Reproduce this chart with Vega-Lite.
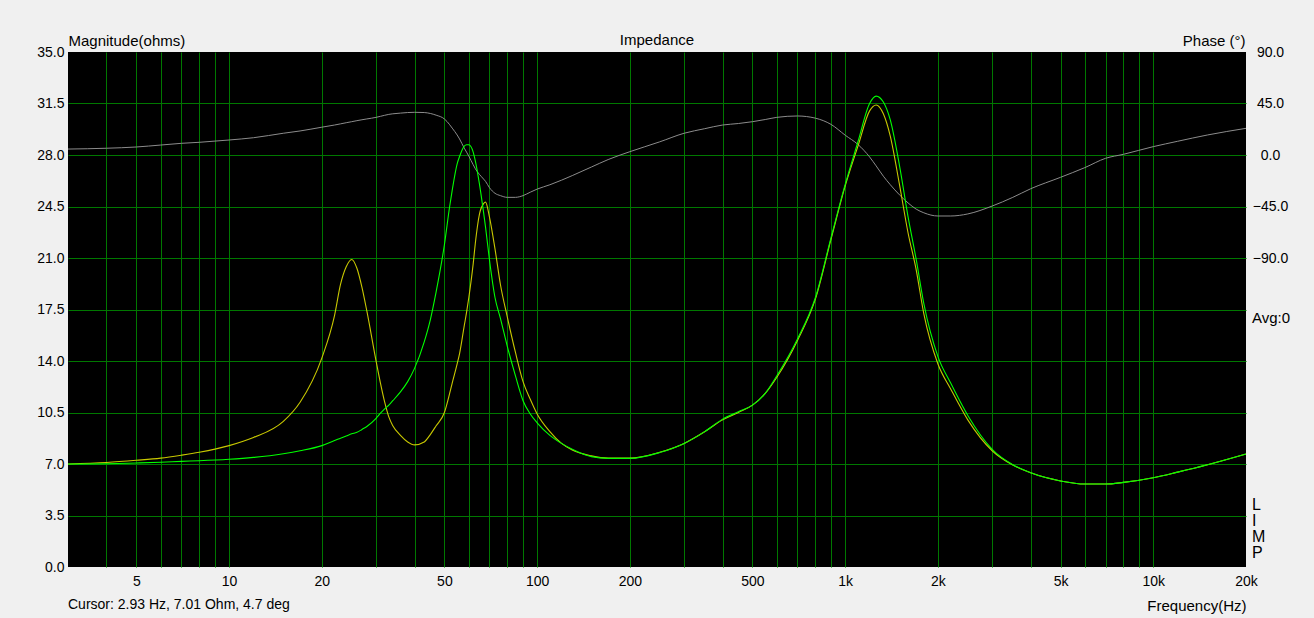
{
  "$schema": "https://vega.github.io/schema/vega-lite/v6.json",
  "width": 1178,
  "height": 515,
  "autosize": {"type": "none"},
  "padding": {"left": 68, "top": 52, "right": 68, "bottom": 51},
  "background": "#f0f0f0",
  "config": {
    "font": "Liberation Sans",
    "view": {"fill": "#000000", "stroke": null},
    "axis": {
      "labelFont": "Liberation Sans",
      "titleFont": "Liberation Sans",
      "labelColor": "#000000",
      "titleColor": "#000000",
      "labelFontSize": 14,
      "titleFontSize": 15,
      "titleFontWeight": "normal",
      "domain": false,
      "ticks": false,
      "tickSize": 0,
      "gridWidth": 1,
      "gridOpacity": 1,
      "gridColor": "#007800"
    }
  },
  "datasets": {
    "imp": [
      {"f": 3, "m1": 7.0, "m2": 7.0, "ph": 5.2},
      {"f": 4, "m1": 7.1, "m2": 7.02, "ph": 5.9},
      {"f": 5, "m1": 7.25, "m2": 7.07, "ph": 7.0},
      {"f": 6, "m1": 7.4, "m2": 7.12, "ph": 8.7},
      {"f": 7, "m1": 7.6, "m2": 7.18, "ph": 10.2},
      {"f": 8, "m1": 7.8, "m2": 7.22, "ph": 11.1},
      {"f": 10, "m1": 8.25, "m2": 7.32, "ph": 13.1},
      {"f": 12, "m1": 8.8, "m2": 7.45, "ph": 15.1},
      {"f": 15, "m1": 9.9, "m2": 7.7, "ph": 19.0},
      {"f": 17, "m1": 11.2, "m2": 7.9, "ph": 21.0},
      {"f": 20, "m1": 14.2, "m2": 8.25, "ph": 24.3},
      {"f": 22, "m1": 17.1, "m2": 8.6, "ph": 26.2},
      {"f": 23, "m1": 19.2, "m2": 8.75, "ph": 27.2},
      {"f": 24, "m1": 20.4, "m2": 8.9, "ph": 28.2},
      {"f": 25, "m1": 20.9, "m2": 9.05, "ph": 29.1},
      {"f": 26, "m1": 20.3, "m2": 9.15, "ph": 30.0},
      {"f": 27, "m1": 19.0, "m2": 9.35, "ph": 30.8},
      {"f": 28, "m1": 17.4, "m2": 9.55, "ph": 31.5},
      {"f": 30, "m1": 14.0, "m2": 10.1, "ph": 32.9},
      {"f": 31, "m1": 12.5, "m2": 10.45, "ph": 33.8},
      {"f": 32, "m1": 11.2, "m2": 10.75, "ph": 34.7},
      {"f": 33, "m1": 10.2, "m2": 11.0, "ph": 35.5},
      {"f": 34, "m1": 9.6, "m2": 11.3, "ph": 36.0},
      {"f": 36, "m1": 8.95, "m2": 11.9, "ph": 36.6},
      {"f": 38, "m1": 8.5, "m2": 12.6, "ph": 37.1},
      {"f": 40, "m1": 8.3, "m2": 13.5, "ph": 37.3},
      {"f": 43, "m1": 8.5, "m2": 15.3, "ph": 37.1},
      {"f": 45, "m1": 9.0, "m2": 16.8, "ph": 36.3},
      {"f": 47, "m1": 9.6, "m2": 18.7, "ph": 34.8},
      {"f": 50, "m1": 10.5, "m2": 21.9, "ph": 31.5},
      {"f": 52, "m1": 11.8, "m2": 24.5, "ph": 26.5},
      {"f": 53, "m1": 12.5, "m2": 25.6, "ph": 23.5},
      {"f": 55, "m1": 13.8, "m2": 27.4, "ph": 17.5},
      {"f": 56, "m1": 14.5, "m2": 27.9, "ph": 14},
      {"f": 58, "m1": 16.4, "m2": 28.6, "ph": 6},
      {"f": 59, "m1": 17.3, "m2": 28.7, "ph": 2.5},
      {"f": 60, "m1": 18.3, "m2": 28.7, "ph": -1},
      {"f": 62, "m1": 20.6, "m2": 28.2, "ph": -8.5},
      {"f": 63, "m1": 22.0, "m2": 27.6, "ph": -12},
      {"f": 65, "m1": 24.0, "m2": 26.0, "ph": -17},
      {"f": 67, "m1": 24.7, "m2": 24.1, "ph": -21},
      {"f": 68, "m1": 24.8, "m2": 23.1, "ph": -23},
      {"f": 70, "m1": 23.8, "m2": 20.9, "ph": -28.5},
      {"f": 73, "m1": 21.6, "m2": 18.3, "ph": -33.5},
      {"f": 76, "m1": 19.2, "m2": 16.9, "ph": -35.5},
      {"f": 80, "m1": 17.0, "m2": 15.0, "ph": -37},
      {"f": 85, "m1": 14.6, "m2": 13.0, "ph": -37},
      {"f": 90, "m1": 12.6, "m2": 11.3, "ph": -35.5},
      {"f": 95, "m1": 11.4, "m2": 10.4, "ph": -32.5},
      {"f": 100, "m1": 10.4, "m2": 9.8, "ph": -29.8},
      {"f": 110, "m1": 9.2, "m2": 8.95, "ph": -26},
      {"f": 120, "m1": 8.4, "m2": 8.4, "ph": -22},
      {"f": 130, "m1": 7.95, "m2": 8.0, "ph": -18},
      {"f": 150, "m1": 7.55, "m2": 7.5, "ph": -10.5},
      {"f": 170, "m1": 7.4, "m2": 7.38, "ph": -4},
      {"f": 200, "m1": 7.4, "m2": 7.38, "ph": 2.9},
      {"f": 250, "m1": 7.8, "m2": 7.78, "ph": 11.5},
      {"f": 300, "m1": 8.4, "m2": 8.4, "ph": 19.0},
      {"f": 350, "m1": 9.2, "m2": 9.2, "ph": 23},
      {"f": 400, "m1": 10.0, "m2": 10.05, "ph": 26.2},
      {"f": 450, "m1": 10.5, "m2": 10.55, "ph": 27.5},
      {"f": 500, "m1": 11.0, "m2": 11.0, "ph": 29.1},
      {"f": 550, "m1": 11.8, "m2": 11.8, "ph": 31},
      {"f": 600, "m1": 12.9, "m2": 13.0, "ph": 32.9},
      {"f": 700, "m1": 15.4, "m2": 15.5, "ph": 34.1},
      {"f": 800, "m1": 18.2, "m2": 18.3, "ph": 32.2},
      {"f": 900, "m1": 22.3, "m2": 22.4, "ph": 26.7},
      {"f": 1000, "m1": 25.9, "m2": 26.0, "ph": 17.3},
      {"f": 1100, "m1": 28.6, "m2": 28.9, "ph": 9.2},
      {"f": 1200, "m1": 31.0, "m2": 31.5, "ph": -1.7},
      {"f": 1260, "m1": 31.4, "m2": 32.0, "ph": -9.5},
      {"f": 1330, "m1": 30.8, "m2": 31.6, "ph": -18.5},
      {"f": 1400, "m1": 29.3, "m2": 30.4, "ph": -25.9},
      {"f": 1500, "m1": 26.0, "m2": 27.3, "ph": -34.8},
      {"f": 1600, "m1": 22.7, "m2": 23.8, "ph": -41.9},
      {"f": 1700, "m1": 20.2, "m2": 20.9, "ph": -47.3},
      {"f": 1800, "m1": 17.2, "m2": 17.9, "ph": -50.5},
      {"f": 2000, "m1": 13.8, "m2": 14.3, "ph": -53.3},
      {"f": 2200, "m1": 12.1, "m2": 12.5, "ph": -53.3},
      {"f": 2500, "m1": 10.0, "m2": 10.3, "ph": -51.5},
      {"f": 3000, "m1": 7.9, "m2": 8.0, "ph": -44.6},
      {"f": 3500, "m1": 6.93, "m2": 6.95, "ph": -37},
      {"f": 4000, "m1": 6.4, "m2": 6.4, "ph": -29.5},
      {"f": 5000, "m1": 5.85, "m2": 5.85, "ph": -19.5},
      {"f": 6000, "m1": 5.64, "m2": 5.64, "ph": -11},
      {"f": 7000, "m1": 5.64, "m2": 5.64, "ph": -2.9},
      {"f": 8000, "m1": 5.75, "m2": 5.75, "ph": 0.6},
      {"f": 10000, "m1": 6.07, "m2": 6.07, "ph": 7.3},
      {"f": 12000, "m1": 6.45, "m2": 6.45, "ph": 12},
      {"f": 15000, "m1": 6.95, "m2": 6.95, "ph": 17.5},
      {"f": 20000, "m1": 7.68, "m2": 7.68, "ph": 23.3}
    ],
    "one": [{}]
  },
  "data": {"name": "imp"},
  "layer": [
    {
      "mark": {"type": "line", "color": "#8c8c8c", "strokeWidth": 1, "interpolate": "monotone"},
      "encoding": {
        "x": {
          "field": "f",
          "type": "quantitative",
          "scale": {"type": "log", "domain": [3, 20000], "nice": false},
          "axis": {
            "orient": "bottom",
            "values": [5, 10, 20, 50, 100, 200, 500, 1000, 2000, 5000, 10000, 20000],
            "labelExpr": "datum.value >= 1000 ? (datum.value / 1000) + 'k' : datum.value + ''",
            "labelPadding": 7,
            "labelFlush": false,
            "labelOverlap": false,
            "grid": false,
            "title": "Frequency(Hz)",
            "titleAlign": "right",
            "titleAnchor": "end",
            "titleBaseline": "middle",
            "titleX": 1178,
            "titleY": 38,
            "titleFontSize": 15
          }
        },
        "y": {
          "field": "ph",
          "type": "quantitative",
          "scale": {"domain": [-360, 90], "nice": false, "zero": false},
          "axis": {
            "orient": "right",
            "values": [-90, -45, 0, 45, 90],
            "format": ".1f",
            "grid": false,
            "labelAlign": "center",
            "labelPadding": 24,
            "title": "Phase (°)",
            "titleAngle": 0,
            "titleAlign": "right",
            "titleBaseline": "middle",
            "titleX": -1,
            "titleY": -12
          }
        }
      }
    },
    {
      "layer": [
        {
          "mark": {"type": "line", "color": "#c8c800", "strokeWidth": 1.1, "interpolate": "monotone"},
          "encoding": {
            "x": {
              "field": "f",
              "type": "quantitative",
              "scale": {"type": "log", "domain": [3, 20000], "nice": false},
              "axis": {
                "orient": "bottom",
                "values": [4, 5, 6, 7, 8, 9, 10, 20, 30, 40, 50, 60, 70, 80, 90, 100, 200, 300, 400, 500, 600, 700, 800, 900, 1000, 2000, 3000, 4000, 5000, 6000, 7000, 8000, 9000, 10000],
                "labels": false,
                "grid": true,
                "title": null
              }
            },
            "y": {
              "field": "m1",
              "type": "quantitative",
              "scale": {"domain": [0, 35], "nice": false},
              "axis": {
                "orient": "left",
                "values": [0, 3.5, 7, 10.5, 14, 17.5, 21, 24.5, 28, 31.5, 35],
                "format": ".1f",
                "grid": false,
                "labelPadding": 4,
                "title": "Magnitude(ohms)",
                "titleAngle": 0,
                "titleAlign": "left",
                "titleBaseline": "middle",
                "titleX": 0,
                "titleY": -12
              }
            }
          }
        },
        {
          "mark": {"type": "line", "color": "#00ff00", "strokeWidth": 1.1, "interpolate": "monotone"},
          "encoding": {
            "x": {"field": "f", "type": "quantitative", "axis": null},
            "y": {
              "field": "m2",
              "type": "quantitative",
              "axis": {
                "orient": "left",
                "values": [3.5, 7, 10.5, 14, 17.5, 21, 24.5, 28, 31.5],
                "labels": false,
                "grid": true,
                "title": null
              }
            }
          }
        },
        {
          "data": {"name": "one"},
          "mark": {"type": "text", "align": "left", "baseline": "middle", "fontSize": 15, "color": "#000000", "dx": 6, "font": "Liberation Sans"},
          "encoding": {
            "x": {"datum": 20000, "axis": null},
            "y": {"datum": 16.93, "axis": null},
            "text": {"value": "Avg:0"}
          }
        },
        {
          "data": {"name": "one"},
          "mark": {"type": "text", "align": "left", "baseline": "top", "fontSize": 16, "lineHeight": 16, "color": "#000000", "dx": 6, "font": "Liberation Sans"},
          "encoding": {
            "x": {"datum": 20000, "axis": null},
            "y": {"datum": 4.76, "axis": null},
            "text": {"value": ["L", "I", "M", "P"]}
          }
        },
        {
          "data": {"name": "one"},
          "mark": {"type": "text", "align": "left", "baseline": "middle", "fontSize": 14, "color": "#000000", "dy": 38, "font": "Liberation Sans"},
          "encoding": {
            "x": {"datum": 3, "axis": null},
            "y": {"datum": 0, "axis": null},
            "text": {"value": "Cursor: 2.93 Hz, 7.01 Ohm, 4.7 deg"}
          }
        },
        {
          "data": {"name": "one"},
          "mark": {"type": "text", "align": "center", "baseline": "middle", "fontSize": 15, "color": "#000000", "dy": -12, "font": "Liberation Sans"},
          "encoding": {
            "x": {"datum": 244.9, "axis": null},
            "y": {"datum": 35, "axis": null},
            "text": {"value": "Impedance"}
          }
        }
      ],
      "resolve": {"axis": {"x": "independent", "y": "independent"}}
    }
  ],
  "resolve": {"scale": {"y": "independent"}, "axis": {"x": "independent", "y": "independent"}}
}
